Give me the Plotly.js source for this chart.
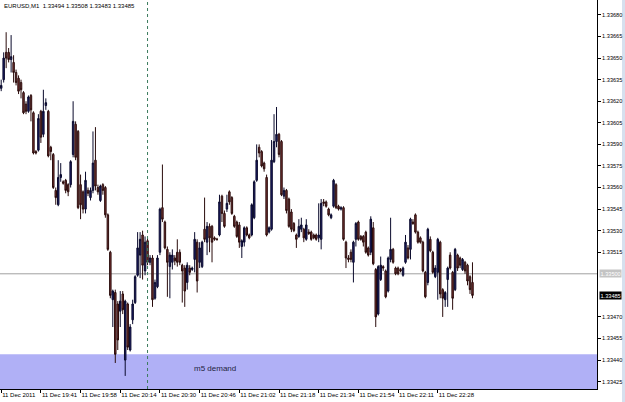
<!DOCTYPE html>
<html>
<head>
<meta charset="utf-8">
<script src="https://cdn.plot.ly/plotly-3.0.1.min.js"></script>
<style>html,body{margin:0;padding:0;background:#fff;}#chart{width:625px;height:402px;}</style>
</head>
<body>
<div id="chart"></div>
<script>
const symbolTitle = 'EURUSD,M1  1.33494 1.33508 1.33483 1.33485';
const tickIndex = [0, 16, 32, 48, 64, 80, 96, 112, 128, 144, 160, 176];
const tickLabels = ['11 Dec 2011', '11 Dec 19:41', '11 Dec 19:58', '11 Dec 20:14', '11 Dec 20:30', '11 Dec 20:46',
  '11 Dec 21:02', '11 Dec 21:18', '11 Dec 21:34', '11 Dec 21:54', '11 Dec 22:11', '11 Dec 22:28'];
const priceTicks = [1.33425, 1.33440, 1.33455, 1.33470, 1.33515, 1.33530, 1.33545, 1.33560,
  1.33575, 1.33590, 1.33605, 1.33620, 1.33635, 1.33650, 1.33665, 1.33680];

const open = [
1.33629,1.33635,1.33654,1.33654,1.33649,1.33647,1.33640,1.33636,1.33633,1.33626,
1.33618,1.33613,1.33624,1.33612,1.33585,1.33586,1.33613,1.33597,1.33617,1.33613,
1.33588,1.33583,1.33558,1.33548,1.33567,1.33564,1.33565,1.33562,1.33562,1.33583,
1.33604,1.33599,1.33562,1.33557,1.33545,1.33558,1.33553,1.33558,1.33579,1.33560,
1.33551,1.33562,1.33560,1.33541,1.33515,1.33482,1.33487,1.33479,1.33474,1.33486,
1.33440,1.33479,1.33447,1.33468,1.33480,1.33499,1.33513,1.33527,1.33502,1.33523,
1.33508,1.33511,1.33483,1.33491,1.33515,1.33546,1.33536,1.33517,1.33505,1.33508,
1.33511,1.33515,1.33515,1.33506,1.33504,1.33494,1.33504,1.33503,1.33510,1.33522,
1.33508,1.33505,1.33531,1.33522,1.33533,1.33533,1.33525,1.33524,1.33527,1.33554,
1.33542,1.33545,1.33557,1.33553,1.33540,1.33536,1.33534,1.33519,1.33522,1.33532,
1.33527,1.33527,1.33539,1.33565,1.33588,1.33585,1.33577,1.33567,1.33529,1.33531,
1.33578,1.33592,1.33597,1.33592,1.33554,1.33558,1.33552,1.33543,1.33535,1.33527,
1.33526,1.33531,1.33531,1.33524,1.33529,1.33529,1.33527,1.33527,1.33525,1.33524,
1.33550,1.33550,1.33545,1.33539,1.33547,1.33562,1.33547,1.33545,1.33546,1.33522,
1.33511,1.33515,1.33508,1.33524,1.33536,1.33526,1.33526,1.33529,1.33518,1.33515,
1.33532,1.33503,1.33472,1.33496,1.33505,1.33502,1.33488,1.33510,1.33517,1.33504,
1.33504,1.33503,1.33499,1.33508,1.33518,1.33517,1.33536,1.33541,1.33529,1.33525,
1.33522,1.33501,1.33494,1.33524,1.33515,1.33498,1.33501,1.33522,1.33489,1.33482,
1.33496,1.33513,1.33501,1.33489,1.33513,1.33511,1.33503,1.33508,1.33506,1.33498,1.33494];

const high = [
1.33635,1.33654,1.33668,1.33657,1.33666,1.33652,1.33642,1.33638,1.33635,1.33627,
1.33620,1.33624,1.33625,1.33613,1.33586,1.33611,1.33614,1.33628,1.33622,1.33614,
1.33589,1.33584,1.33560,1.33579,1.33577,1.33565,1.33566,1.33563,1.33579,1.33620,
1.33606,1.33600,1.33569,1.33558,1.33571,1.33560,1.33560,1.33599,1.33602,1.33562,
1.33562,1.33563,1.33561,1.33542,1.33516,1.33489,1.33489,1.33481,1.33488,1.33488,
1.33482,1.33480,1.33465,1.33482,1.33499,1.33529,1.33529,1.33530,1.33526,1.33525,
1.33513,1.33513,1.33496,1.33513,1.33546,1.33576,1.33537,1.33519,1.33515,1.33517,
1.33513,1.33524,1.33517,1.33507,1.33506,1.33508,1.33506,1.33505,1.33529,1.33524,
1.33522,1.33523,1.33553,1.33536,1.33535,1.33534,1.33526,1.33525,1.33555,1.33555,
1.33544,1.33555,1.33558,1.33554,1.33541,1.33537,1.33536,1.33524,1.33533,1.33533,
1.33528,1.33549,1.33565,1.33590,1.33590,1.33586,1.33578,1.33569,1.33533,1.33593,
1.33611,1.33616,1.33598,1.33593,1.33560,1.33559,1.33553,1.33545,1.33536,1.33528,
1.33538,1.33539,1.33532,1.33538,1.33531,1.33530,1.33528,1.33528,1.33549,1.33552,
1.33552,1.33551,1.33546,1.33542,1.33566,1.33563,1.33548,1.33547,1.33547,1.33523,
1.33513,1.33517,1.33523,1.33536,1.33537,1.33527,1.33527,1.33530,1.33519,1.33540,
1.33536,1.33504,1.33506,1.33512,1.33506,1.33503,1.33512,1.33539,1.33518,1.33505,
1.33505,1.33504,1.33505,1.33527,1.33520,1.33539,1.33538,1.33542,1.33530,1.33526,
1.33523,1.33502,1.33532,1.33526,1.33516,1.33506,1.33525,1.33523,1.33490,1.33488,
1.33505,1.33515,1.33502,1.33518,1.33514,1.33512,1.33511,1.33509,1.33507,1.33499,1.33508];

const low = [
1.33627,1.33633,1.33643,1.33647,1.33640,1.33633,1.33631,1.33625,1.33622,1.33611,
1.33611,1.33612,1.33606,1.33583,1.33583,1.33585,1.33591,1.33595,1.33614,1.33581,
1.33579,1.33559,1.33548,1.33547,1.33564,1.33562,1.33556,1.33554,1.33560,1.33581,
1.33579,1.33545,1.33538,1.33542,1.33542,1.33554,1.33551,1.33556,1.33558,1.33555,
1.33550,1.33555,1.33539,1.33516,1.33483,1.33463,1.33438,1.33447,1.33463,1.33472,
1.33429,1.33447,1.33446,1.33465,1.33479,1.33498,1.33497,1.33496,1.33499,1.33506,
1.33506,1.33477,1.33482,1.33490,1.33513,1.33536,1.33517,1.33484,1.33483,1.33503,
1.33506,1.33505,1.33506,1.33480,1.33477,1.33489,1.33499,1.33502,1.33501,1.33487,
1.33504,1.33504,1.33522,1.33513,1.33515,1.33508,1.33523,1.33523,1.33526,1.33536,
1.33532,1.33543,1.33548,1.33541,1.33532,1.33525,1.33518,1.33511,1.33519,1.33526,
1.33524,1.33526,1.33538,1.33564,1.33581,1.33574,1.33571,1.33526,1.33528,1.33530,
1.33577,1.33588,1.33581,1.33554,1.33552,1.33542,1.33532,1.33529,1.33529,1.33518,
1.33525,1.33529,1.33522,1.33523,1.33527,1.33523,1.33524,1.33523,1.33522,1.33517,
1.33547,1.33546,1.33540,1.33538,1.33546,1.33545,1.33544,1.33544,1.33523,1.33504,
1.33508,1.33508,1.33494,1.33519,1.33523,1.33523,1.33519,1.33514,1.33512,1.33513,
1.33506,1.33463,1.33471,1.33495,1.33502,1.33483,1.33487,1.33508,1.33507,1.33499,
1.33499,1.33501,1.33498,1.33507,1.33510,1.33510,1.33534,1.33528,1.33521,1.33521,
1.33501,1.33483,1.33492,1.33515,1.33500,1.33497,1.33482,1.33483,1.33470,1.33477,
1.33477,1.33503,1.33475,1.33488,1.33502,1.33504,1.33502,1.33500,1.33492,1.33486,1.33483];

const close = [
1.33631,1.33650,1.33650,1.33649,1.33651,1.33640,1.33633,1.33627,1.33628,1.33612,
1.33613,1.33623,1.33614,1.33584,1.33584,1.33608,1.33595,1.33613,1.33619,1.33582,
1.33585,1.33560,1.33553,1.33567,1.33569,1.33563,1.33558,1.33557,1.33578,1.33606,
1.33581,1.33546,1.33548,1.33545,1.33565,1.33556,1.33558,1.33577,1.33561,1.33557,
1.33561,1.33558,1.33541,1.33517,1.33485,1.33488,1.33444,1.33454,1.33481,1.33475,
1.33481,1.33449,1.33463,1.33479,1.33498,1.33518,1.33524,1.33506,1.33522,1.33508,
1.33511,1.33482,1.33494,1.33511,1.33545,1.33538,1.33518,1.33508,1.33513,1.33513,
1.33509,1.33508,1.33508,1.33502,1.33488,1.33506,1.33501,1.33504,1.33524,1.33495,
1.33518,1.33522,1.33524,1.33533,1.33525,1.33522,1.33524,1.33524,1.33550,1.33542,
1.33533,1.33549,1.33550,1.33542,1.33533,1.33526,1.33522,1.33523,1.33532,1.33527,
1.33525,1.33548,1.33564,1.33579,1.33584,1.33575,1.33573,1.33527,1.33532,1.33579,
1.33592,1.33597,1.33583,1.33555,1.33558,1.33544,1.33533,1.33531,1.33530,1.33524,
1.33533,1.33534,1.33525,1.33534,1.33528,1.33524,1.33525,1.33524,1.33527,1.33549,
1.33549,1.33547,1.33541,1.33541,1.33565,1.33546,1.33545,1.33546,1.33524,1.33511,
1.33510,1.33510,1.33522,1.33535,1.33524,1.33524,1.33522,1.33515,1.33513,1.33538,
1.33507,1.33470,1.33505,1.33506,1.33504,1.33484,1.33511,1.33517,1.33508,1.33500,
1.33500,1.33502,1.33504,1.33522,1.33511,1.33538,1.33535,1.33529,1.33522,1.33522,
1.33502,1.33484,1.33531,1.33516,1.33501,1.33504,1.33524,1.33486,1.33483,1.33487,
1.33504,1.33504,1.33483,1.33517,1.33504,1.33506,1.33510,1.33502,1.33495,1.33489,1.33485];

const levelLine = 1.33500;
const bidPrice = 1.33485;
const demandTop = 1.33444;
const demandLabel = 'm5 demand';
const markerBar = 59;

const bars = open.map((_, i) => i);
const yMin = 1.334199, yMax = 1.336904;
const FONT = 'Liberation Sans, Arial, sans-serif';
const AX = 5.6;

const trace = {
  type: 'candlestick',
  x: bars, open: open, high: high, low: low, close: close,
  increasing: {line: {color: '#0a0a2c', width: 1}, fillcolor: '#1c1c6a'},
  decreasing: {line: {color: '#2a0c0c', width: 1}, fillcolor: '#7c3434'},
  whiskerwidth: 0,
  hoverinfo: 'none'
};

const layout = {
  width: 625, height: 402,
  margin: {l: 0, r: 28, t: 0, b: 13, pad: 0},
  paper_bgcolor: '#ffffff', plot_bgcolor: '#ffffff',
  showlegend: false, hovermode: false, boxgap: 0.15,
  font: {family: FONT, size: AX, color: '#000'},
  xaxis: {
    range: [-0.48, 240.2], rangeslider: {visible: false},
    tickmode: 'array', tickvals: tickIndex, ticktext: tickLabels, tickangle: 0,
    ticks: 'outside', ticklen: 3, tickcolor: '#000', ticklabelposition: 'outside right',
    showline: true, linecolor: '#000', linewidth: 1, mirror: false,
    showgrid: false, zeroline: false, tickfont: {family: FONT, size: 6, color: '#000'}
  },
  yaxis: {
    side: 'right', range: [yMin, yMax],
    tickmode: 'array', tickvals: priceTicks, tickformat: '.5f',
    ticks: 'outside', ticklen: 3, tickcolor: '#000',
    showline: true, linecolor: '#000', linewidth: 1,
    showgrid: false, zeroline: false, tickfont: {family: FONT, size: AX, color: '#000'}
  },
  shapes: [
    {type: 'rect', xref: 'paper', x0: 0, x1: 1, yref: 'y', y0: yMin, y1: demandTop,
     fillcolor: '#b0b0f6', line: {width: 0}, layer: 'below'},
    {type: 'line', xref: 'paper', x0: 0, x1: 1, yref: 'y', y0: levelLine, y1: levelLine,
     line: {color: '#a0a0a0', width: 1}, layer: 'below'},
    {type: 'line', xref: 'x', x0: markerBar, x1: markerBar, yref: 'paper', y0: 0, y1: 1,
     line: {color: '#3a7a5c', width: 1, dash: 'dot'}},
    {type: 'rect', xref: 'paper', x0: 622/597, x1: 626/597, yref: 'paper', y0: -14/389, y1: 1,
     fillcolor: '#d6e0ee', line: {width: 0}, layer: 'below'}
  ],
  annotations: [
    {xref: 'paper', yref: 'paper', x: 0.003, y: 0.997, xanchor: 'left', yanchor: 'top',
     text: symbolTitle, showarrow: false, font: {family: FONT, size: 6, color: '#000'}},
    {xref: 'x', yref: 'y', x: 86, y: 1.33434, text: demandLabel, showarrow: false,
     font: {family: FONT, size: 8, color: '#1e1e40'}},
    {xref: 'paper', yref: 'y', x: 1, xanchor: 'left', xshift: 2, y: levelLine,
     text: levelLine.toFixed(5), showarrow: false, bgcolor: '#c4c4c4', borderpad: 0.5,
     font: {family: FONT, size: AX, color: '#ffffff'}},
    {xref: 'paper', yref: 'y', x: 1, xanchor: 'left', xshift: 2, y: bidPrice,
     text: bidPrice.toFixed(5), showarrow: false, bgcolor: '#000000', borderpad: 0.5,
     font: {family: FONT, size: AX, color: '#ffffff'}}
  ]
};

Plotly.newPlot('chart', [trace], layout, {staticPlot: true, displayModeBar: false});
</script>
</body>
</html>
